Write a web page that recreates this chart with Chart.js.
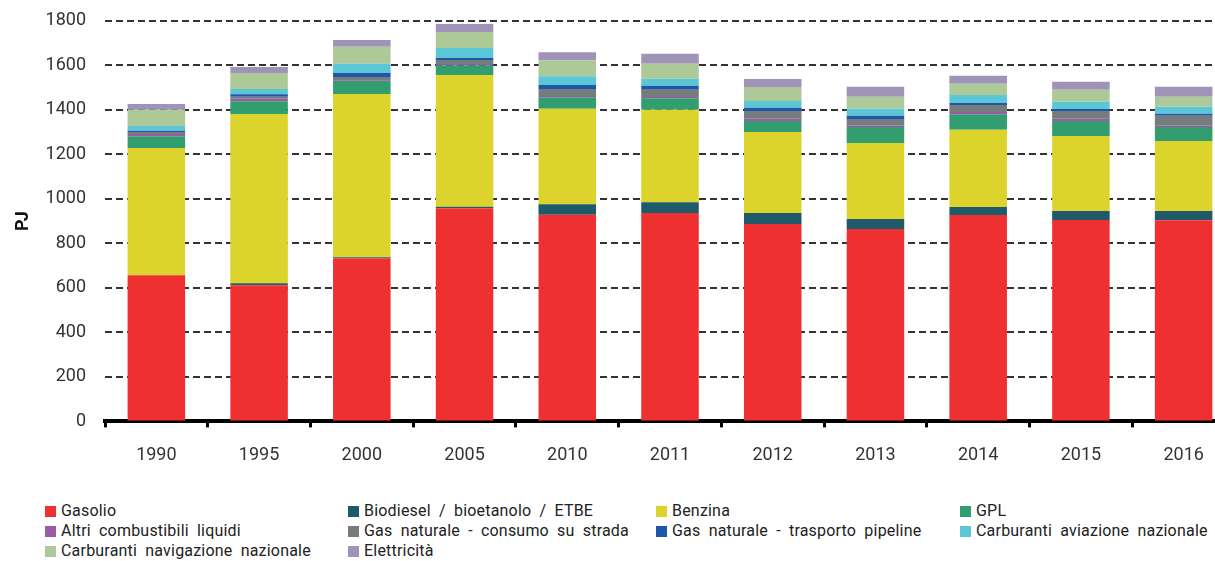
<!DOCTYPE html>
<html>
<head>
<meta charset="utf-8">
<title>Consumi energetici trasporti</title>
<script src="https://cdn.jsdelivr.net/npm/chart.js@4/dist/chart.umd.min.js"></script>
<style>
    body { margin: 0; background: #fff; overflow: hidden; }
    .wrap { position: relative; width: 1215px; height: 561px; overflow: hidden; }
    .plot { position: absolute; left: 0; top: -9px; width: 1235px; height: 495px; }
    .legend {
        position: absolute;
        top: 501px;
        left: 0;
        width: 1215px;
        font-family: Roboto, sans-serif;
        font-size: 16px;
        color: #222;
    }
    .legend div {
        position: absolute;
        white-space: nowrap;
        height: 20px;
        line-height: 20px;
        word-spacing: 4px;
        letter-spacing: 0.2px;
    }
    .legend span {
        display: inline-block;
        width: 11px;
        height: 11px;
        margin-right: 5px;
        vertical-align: -1px;
    }
</style>
</head>
<body>
<div class="wrap">
    <div class="plot"><canvas id="chart"></canvas></div>
    <div class="legend" id="legend"></div>
</div>
<script>
    var years = ['1990', '1995', '2000', '2005', '2010', '2011', '2012', '2013', '2014', '2015', '2016'];

    // valori in PJ
    var gasolio     = [657, 612, 733, 958, 929, 936, 887, 864, 927, 905, 904];
    var biodiesel   = [0, 9, 5, 6, 47, 49, 49, 45, 36, 40, 41];
    var benzina     = [571, 760, 733, 593, 429, 415, 364, 342, 347, 337, 315];
    var gpl         = [53, 58, 59, 43, 52, 52, 50, 72, 70, 68, 63];
    var altri       = [10, 11, 3, 6, 5, 6, 10, 5, 10, 10, 5];
    var gasStrada   = [9, 9, 15, 18, 31, 32, 35, 31, 32, 35, 45];
    var gasPipeline = [6, 11, 18, 9, 18, 18, 14, 14, 9, 9, 9];
    var aviazione   = [21, 23, 41, 45, 40, 32, 31, 32, 36, 32, 32];
    var navigazione = [73, 72, 76, 72, 72, 67, 63, 54, 50, 54, 45];
    var elettricita = [26, 27, 31, 36, 36, 45, 36, 45, 36, 36, 45];

    var legendCols = [45, 348, 656, 960];

    var series = [
        { label: 'Gasolio', data: gasolio, color: '#EF3031' },
        { label: 'Biodiesel / bioetanolo / ETBE', data: biodiesel, color: '#1E5A69' },
        { label: 'Benzina', data: benzina, color: '#DCD42C' },
        { label: 'GPL', data: gpl, color: '#329E6F' },
        { label: 'Altri combustibili liquidi', data: altri, color: '#9B59A6' },
        { label: 'Gas naturale - consumo su strada', data: gasStrada, color: '#767B7D' },
        { label: 'Gas naturale - trasporto pipeline', data: gasPipeline, color: '#1F57A8' },
        { label: 'Carburanti aviazione nazionale', data: aviazione, color: '#5BC6D6' },
        { label: 'Carburanti navigazione nazionale', data: navigazione, color: '#AEC998' },
        { label: 'Elettricità', data: elettricita, color: '#9F93B7' }
    ];

    var tickFont = { family: 'Roboto', size: 18 };

    var chart = new Chart(document.getElementById('chart'), {
        type: 'bar',
        data: {
            labels: years,
            datasets: series.map(function (s) {
                return {
                    label: s.label,
                    data: s.data,
                    backgroundColor: s.color,
                    borderWidth: 0,
                    barPercentage: 0.56,
                    categoryPercentage: 1.0
                };
            })
        },
        options: {
            responsive: true,
            maintainAspectRatio: false,
            animation: false,
            layout: { padding: { left: 2, top: 2, right: 0, bottom: 3 } },
            plugins: {
                legend: { display: false },
                tooltip: { enabled: false }
            },
            scales: {
                x: {
                    stacked: true,
                    grid: {
                        display: true,
                        drawOnChartArea: false,
                        drawTicks: true,
                        tickLength: 6,
                        tickWidth: 3,
                        tickColor: '#000',
                        offset: true
                    },
                    border: { display: true, color: '#000', width: 4 },
                    ticks: { font: tickFont, color: '#333', padding: 17 }
                },
                y: {
                    stacked: true,
                    min: 0,
                    max: 1800,
                    afterFit: function (scale) { scale.width = 103; },
                    ticks: {
                        stepSize: 200,
                        font: tickFont,
                        color: '#333',
                        padding: 19,
                        callback: function (v) { return String(v); }
                    },
                    grid: { color: '#333', lineWidth: 2, drawTicks: false },
                    border: { display: false, dash: [7, 4] },
                    title: {
                        display: true,
                        text: 'PJ',
                        font: { family: 'Roboto', size: 18, weight: 'bold' },
                        color: '#111',
                        padding: { top: 11, bottom: 0 }
                    }
                }
            }
        }
    });

    // legenda su 4 colonne, costruita dai dataset
    var legend = document.getElementById('legend');
    chart.data.datasets.forEach(function (ds, i) {
        var item = document.createElement('div');
        item.style.left = legendCols[i % 4] + 'px';
        item.style.top = (Math.floor(i / 4) * 20) + 'px';
        var box = document.createElement('span');
        box.style.background = ds.backgroundColor;
        item.appendChild(box);
        item.appendChild(document.createTextNode(ds.label));
        legend.appendChild(item);
    });
</script>
</body>
</html>
